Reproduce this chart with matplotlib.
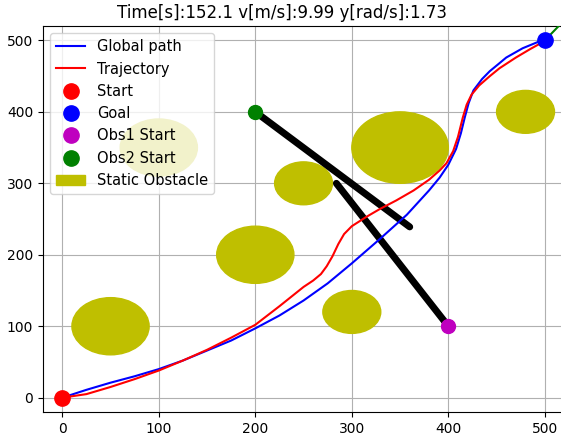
import matplotlib
matplotlib.use("Agg")
import matplotlib.pyplot as plt
from matplotlib.patches import Circle, Patch
from matplotlib.lines import Line2D

# global path (blue)
path_x = [0, 25, 50, 75, 100, 125, 150, 175, 200, 225, 250, 275, 300, 329, 357, 380, 391, 400,
          408, 413, 417, 421, 426, 435, 443, 452, 460, 477, 495, 500]
path_y = [0, 11, 21, 30, 40, 52, 66, 80, 97, 115, 136, 160, 188, 222, 256, 290, 308, 326,
          348, 370, 392, 412, 430, 446, 457, 467, 476, 489, 499, 500]

# trajectory (red)
traj_x = [0, 25, 50, 75, 100, 125, 150, 175, 200, 225, 250, 260, 268, 274, 280, 286, 292, 300,
          315, 329, 346, 364, 380, 391, 398, 405, 410, 415, 419, 424, 432, 443, 453, 470, 485, 493]
traj_y = [0, 5, 15, 26, 38, 52, 67, 84, 102, 128, 155, 164, 173, 184, 198, 215, 229, 240,
          253, 264, 276, 290, 305, 318, 328, 345, 365, 392, 410, 424, 437, 450, 461, 476, 488, 494]

# static obstacles: centre x, centre y, radius
obs_x = [50, 100, 200, 250, 300, 350, 480]
obs_y = [100, 350, 200, 300, 120, 350, 400]
obs_r = [40, 40, 40, 30, 30, 50, 30]

# moving obstacle paths
obs1_x = [400, 284]
obs1_y = [100, 300]
obs2_x = [200, 360]
obs2_y = [400, 239]

start = (0, 0)
goal = (500, 500)
heading_x = [500, 530]
heading_y = [500, 542]

fig = plt.figure(figsize=(5.61, 4.41), dpi=100)
ax = fig.add_axes([0.0766, 0.0658, 0.929, 0.875])

for cx, cy, r in zip(obs_x, obs_y, obs_r):
    ax.add_patch(Circle((cx, cy), r, color='y', zorder=2))

ax.plot(obs1_x, obs1_y, color='k', linewidth=5, solid_capstyle='round', zorder=3)
ax.plot(obs2_x, obs2_y, color='k', linewidth=5, solid_capstyle='round', zorder=3)

ax.plot(path_x, path_y, color='b', linewidth=1.5, zorder=4)
ax.plot(traj_x, traj_y, color='r', linewidth=1.5, zorder=5)
ax.plot(heading_x, heading_y, color='g', linewidth=1.5, zorder=5)

ax.plot(start[0], start[1], 'o', color='r', markersize=11, zorder=6)
ax.plot(goal[0], goal[1], 'o', color='b', markersize=11, zorder=6)
ax.plot(obs1_x[0], obs1_y[0], 'o', color='m', markersize=10, zorder=6)
ax.plot(obs2_x[0], obs2_y[0], 'o', color='g', markersize=10, zorder=6)

ax.set_xlim(-20, 520)
ax.set_ylim(-20, 520)
ax.grid(True)
ax.set_axisbelow(True)
# title sits centred on the figure, not on the (cropped) axes
ax.set_title('Time[s]:152.1 v[m/s]:9.99 y[rad/s]:1.73', x=0.459)

handles = [
    Line2D([], [], color='b', linewidth=1.5),
    Line2D([], [], color='r', linewidth=1.5),
    Line2D([], [], color='r', marker='o', linestyle='', markersize=11),
    Line2D([], [], color='b', marker='o', linestyle='', markersize=11),
    Line2D([], [], color='m', marker='o', linestyle='', markersize=11),
    Line2D([], [], color='g', marker='o', linestyle='', markersize=11),
    Patch(color='y'),
]
labels = ['Global path', 'Trajectory', 'Start', 'Goal', 'Obs1 Start', 'Obs2 Start', 'Static Obstacle']
ax.legend(handles, labels, loc='upper left', fontsize=10.5)

fig.savefig('out.png', dpi=100)
